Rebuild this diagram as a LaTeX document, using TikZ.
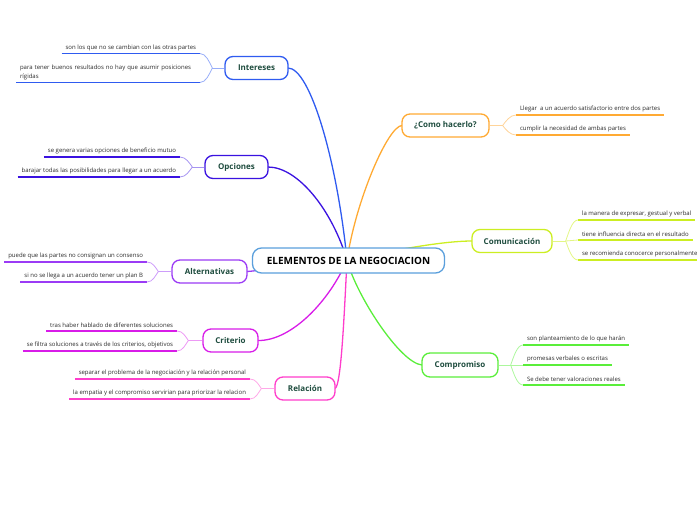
\documentclass[tikz,border=0pt]{standalone}
\usepackage{fontspec}
\setmainfont{Open Sans}
\definecolor{cInt}{HTML}{2F5BF0}
\definecolor{cOpc}{HTML}{3A12E0}
\definecolor{cAlt}{HTML}{9B3BF5}
\definecolor{cCri}{HTML}{D81CE8}
\definecolor{cRel}{HTML}{FF3DCB}
\definecolor{cHac}{HTML}{FFAA33}
\definecolor{cCmn}{HTML}{CCEE22}
\definecolor{cCmp}{HTML}{5AEE3A}
\definecolor{cCen}{HTML}{5A9FDC}
\definecolor{txtg}{HTML}{1F4D3F}
\definecolor{leaft}{HTML}{2A2A2A}
\tikzset{
  mainline/.style={line width=1.3pt},
  forkline/.style={line width=0.8pt},
  underline/.style={line width=1.8pt},
  branchbox/.style={draw=#1, line width=1.3pt, rounded corners=8pt, fill=white,
    text=txtg, font=\bfseries\fontsize{8}{10}\selectfont, inner sep=0pt, minimum height=23pt},
  centerbox/.style={draw=cCen, line width=1.3pt, rounded corners=9pt, fill=white,
    font=\bfseries\fontsize{10}{12}\selectfont, inner sep=0pt, minimum width=192pt, minimum height=25pt},
  leafbase/.style={inner xsep=4pt, inner ysep=3pt, outer sep=0pt, text=leaft,
    font=\fontsize{6}{9}\selectfont, align=left},
  leafL/.style={leafbase, anchor=south east},
  leafR/.style={leafbase, anchor=south west},
}
\begin{document}
\begin{tikzpicture}[x=1pt, y=-1pt]
\useasboundingbox (0,0) rectangle (697,520);

\coordinate (cc) at (347,260);

% main connectors
\draw[mainline, cInt] (288,68) coordinate (ie) .. controls (310,68) and (337,160) .. (cc);
\draw[mainline, cOpc] (268,167) coordinate (oe) .. controls (298,167) and (332,210) .. (cc);
\draw[mainline, cAlt] (247,271.5) coordinate (ae) .. controls (270,270) and (300,262) .. (cc);
\draw[mainline, cCri] (258,340.5) coordinate (ce) .. controls (292,341) and (330,300) .. (cc);
\draw[mainline, cRel] (335,388.5) coordinate (re) .. controls (341,386) and (344,320) .. (cc);
\draw[mainline, cHac] (402,125.5) coordinate (he) .. controls (388,126) and (356,200) .. (cc);
\draw[mainline, cCmn] (472,241) coordinate (me) .. controls (440,241) and (385,252) .. (cc);
\draw[mainline, cCmp] (422,365) coordinate (pe) .. controls (400,363) and (356,295) .. (cc);

% center
\node[centerbox] (c) at (348.5,260.5) {ELEMENTOS DE LA NEGOCIACION};

% branch boxes
\node[branchbox=cInt, minimum width=63pt] (ib) at (256.5,68) {Intereses};
\node[branchbox=cOpc, minimum width=63pt] (ob) at (236.5,167) {Opciones};
\node[branchbox=cAlt, minimum width=75pt] (ab) at (209.5,271.5) {Alternativas};
\node[branchbox=cCri, minimum width=55pt] (cb) at (230.5,340.5) {Criterio};
\node[branchbox=cRel, minimum width=60pt] (rb) at (305,388.5) {Relación};
\node[branchbox=cHac, minimum width=87pt] (hb) at (445.5,125.5) {¿Como hacerlo?};
\node[branchbox=cCmn, minimum width=80pt] (mb) at (512,241) {Comunicación};
\node[branchbox=cCmp, minimum width=76pt, minimum height=24pt] (pb) at (460,365) {Compromiso};

% leaves - left
\node[leafL] (i1) at (200,53.5) {son los que no se cambian con las otras partes};
\node[leafL, text width=176pt] (i2) at (200,82.5) {para tener buenos resultados no hay que asumir posiciones\\rígidas};
\node[leafL] (o1) at (180,157) {se genera varias opciones de beneficio mutuo};
\node[leafL] (o2) at (180,177) {barajar todas las posibilidades para llegar a un acuerdo};
\node[leafL] (a1) at (147,262) {puede que las partes no consignan un consenso};
\node[leafL] (a2) at (147,282) {si no se llega a un acuerdo tener un plan B};
\node[leafL] (c1) at (177,331) {tras haber hablado de diferentes soluciones};
\node[leafL] (c2) at (177,351) {se filtra soluciones a través de los criterios, objetivos};
\node[leafL] (r1) at (250,379) {separar el problema de la negociación y la relación personal};
\node[leafL] (r2) at (250,399) {la empatia y el compromiso servirian para priorizar la relacion};

% leaves - right
\node[leafR] (h1) at (516,115) {Llegar \ a un acuerdo satisfactorio entre dos partes};
\node[leafR] (h2) at (516,135) {cumplir la necesidad de ambas partes};
\node[leafR] (m1) at (578,220) {la manera de expresar, gestual y verbal};
\node[leafR] (m2) at (578,240) {tiene influencia directa en el resultado};
\node[leafR] (m3) at (578,260) {se recomienda conocerce personalmente};
\node[leafR] (p1) at (523,345) {son planteamiento de lo que harán};
\node[leafR] (p2) at (523,365) {promesas verbales o escritas};
\node[leafR] (p3) at (523,385) {Se debe tener valoraciones reales};

% underlines
\foreach \n/\col in {i1/cInt,i2/cInt,o1/cOpc,o2/cOpc,a1/cAlt,a2/cAlt,c1/cCri,c2/cCri,r1/cRel,r2/cRel,h1/cHac,h2/cHac,m1/cCmn,m2/cCmn,m3/cCmn,p1/cCmp,p2/cCmp,p3/cCmp}
  \draw[underline, draw=\col] (\n.south west) -- (\n.south east);

% forks - left
\draw[forkline, cInt!50] (ib.west) -- ++(-12,0) coordinate (ij);
\draw[forkline, cInt!50] (ij) .. controls +(-3,-6) and +(6,0) .. (i1.south east);
\draw[forkline, cInt!50] (ij) .. controls +(-3,6) and +(6,0) .. (i2.south east);
\draw[forkline, cOpc!45] (ob.west) -- ++(-12,0) coordinate (oj);
\draw[forkline, cOpc!45] (oj) .. controls +(-3,-4) and +(6,0) .. (o1.south east);
\draw[forkline, cOpc!45] (oj) .. controls +(-3,4) and +(6,0) .. (o2.south east);
\draw[forkline, cAlt!50] (ab.west) -- ++(-13,0) coordinate (aj);
\draw[forkline, cAlt!50] (aj) .. controls +(-3,-4) and +(6,0) .. (a1.south east);
\draw[forkline, cAlt!50] (aj) .. controls +(-3,4) and +(6,0) .. (a2.south east);
\draw[forkline, cCri!45] (cb.west) -- ++(-14,0) coordinate (cj);
\draw[forkline, cCri!45] (cj) .. controls +(-3,-4) and +(6,0) .. (c1.south east);
\draw[forkline, cCri!45] (cj) .. controls +(-3,4) and +(6,0) .. (c2.south east);
\draw[forkline, cRel!45] (rb.west) -- ++(-13,0) coordinate (rj);
\draw[forkline, cRel!45] (rj) .. controls +(-3,-4) and +(6,0) .. (r1.south east);
\draw[forkline, cRel!45] (rj) .. controls +(-3,4) and +(6,0) .. (r2.south east);

% forks - right
\draw[forkline, cHac!50] (hb.east) -- ++(13,0) coordinate (hj);
\draw[forkline, cHac!50] (hj) .. controls +(3,-4) and +(-6,0) .. (h1.south west);
\draw[forkline, cHac!50] (hj) .. controls +(3,4) and +(-6,0) .. (h2.south west);
\draw[forkline, cCmn!55] (mb.east) -- ++(13,0) coordinate (mj);
\draw[forkline, cCmn!55] (mj) .. controls +(3,-8) and +(-6,0) .. (m1.south west);
\draw[forkline, cCmn!55] (mj) -- (m2.south west);
\draw[forkline, cCmn!55] (mj) .. controls +(3,8) and +(-6,0) .. (m3.south west);
\draw[forkline, cCmp!50] (pb.east) -- ++(12,0) coordinate (pj);
\draw[forkline, cCmp!50] (pj) .. controls +(3,-8) and +(-6,0) .. (p1.south west);
\draw[forkline, cCmp!50] (pj) -- (p2.south west);
\draw[forkline, cCmp!50] (pj) .. controls +(3,8) and +(-6,0) .. (p3.south west);
\end{tikzpicture}
\end{document}
